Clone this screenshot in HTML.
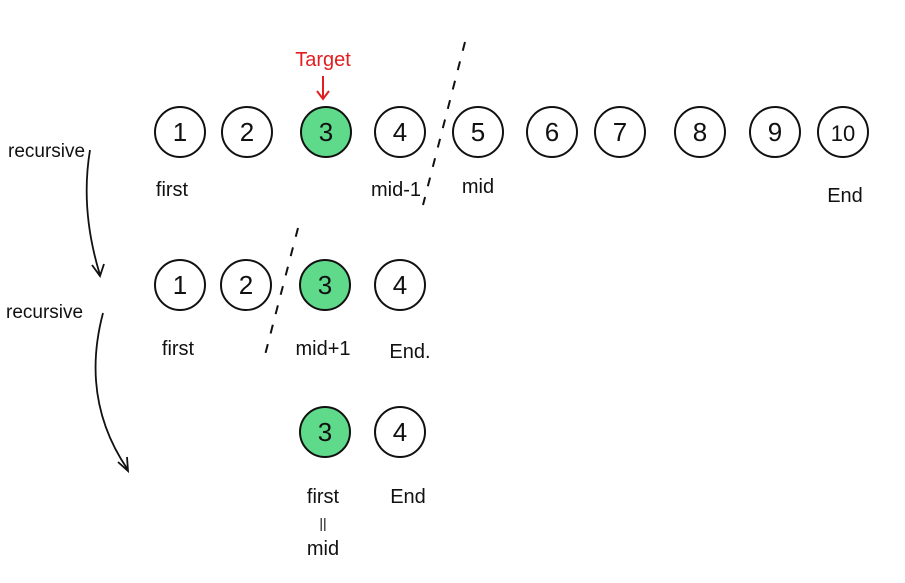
<!DOCTYPE html>
<html><head><meta charset="utf-8"><style>
html,body{margin:0;padding:0;background:#fff;}
svg{display:block;}
text{font-family:"Liberation Sans",sans-serif;fill:#111;}
</style></head><body>
<svg id="chart" width="905" height="583" viewBox="0 0 905 583">
<g id="marks"></g>
<text x="323" y="66" font-size="20" text-anchor="middle" style="fill:#e02020">Target</text>
<path d="M323 76 L323 98 M317 91 L323 99 L329 91" stroke="#e02020" stroke-width="2" fill="none"/>
<path d="M465 42 L423 205" stroke="#111" stroke-width="2" stroke-dasharray="9 11" fill="none"/>
<path d="M298 228 L265 355" stroke="#111" stroke-width="2" stroke-dasharray="9 11" fill="none"/>
<text x="8" y="157" font-size="19">recursive</text>
<text x="6" y="318" font-size="19">recursive</text>
<path d="M90 150 Q80 210 100 275 M92 265 L100 276 L104 264" stroke="#111" stroke-width="1.8" fill="none"/>
<path d="M103 313 Q80 400 128 470 M118 462 L128 471 L127 457" stroke="#111" stroke-width="1.8" fill="none"/>
<g font-size="20" text-anchor="middle">
<text x="172" y="196">first</text>
<text x="396" y="196">mid-1</text>
<text x="478" y="193">mid</text>
<text x="845" y="202">End</text>
<text x="178" y="355">first</text>
<text x="323" y="355">mid+1</text>
<text x="410" y="358">End.</text>
<text x="323" y="503">first</text>
<text x="323" y="528" font-size="14">||</text>
<text x="323" y="555">mid</text>
<text x="408" y="503">End</text>
</g>
</svg>
<script>
const row1Values = [1,2,3,4,5,6,7,8,9,10];
const row2Values = [1,2,3,4];
const row3Values = [3,4];
const targetValue = 3;
const rows = [
  {vals: row1Values, y: 132, xs: [180,247,326,400,478,552,620,700,775,843]},
  {vals: row2Values, y: 285, xs: [180,246,325,400]},
  {vals: row3Values, y: 432, xs: [325,400]}
];
const g = document.getElementById('marks');
const NS = 'http://www.w3.org/2000/svg';
rows.forEach((r, ri) => {
  r.vals.forEach((v, i) => {
    const c = document.createElementNS(NS, 'circle');
    c.setAttribute('cx', r.xs[i]); c.setAttribute('cy', r.y); c.setAttribute('r', 25);
    c.setAttribute('fill', v === targetValue ? '#5fd98a' : '#fff');
    c.setAttribute('stroke', '#111'); c.setAttribute('stroke-width', 2);
    
    
    g.appendChild(c);
    const t = document.createElementNS(NS, 'text');
    t.setAttribute('x', r.xs[i]); t.setAttribute('y', r.y + 9);
    t.setAttribute('font-size', v === 10 ? 22 : 26); t.setAttribute('text-anchor', 'middle');
    t.textContent = v;
    
    
    g.appendChild(t);
  });
});
</script>
</body></html>
